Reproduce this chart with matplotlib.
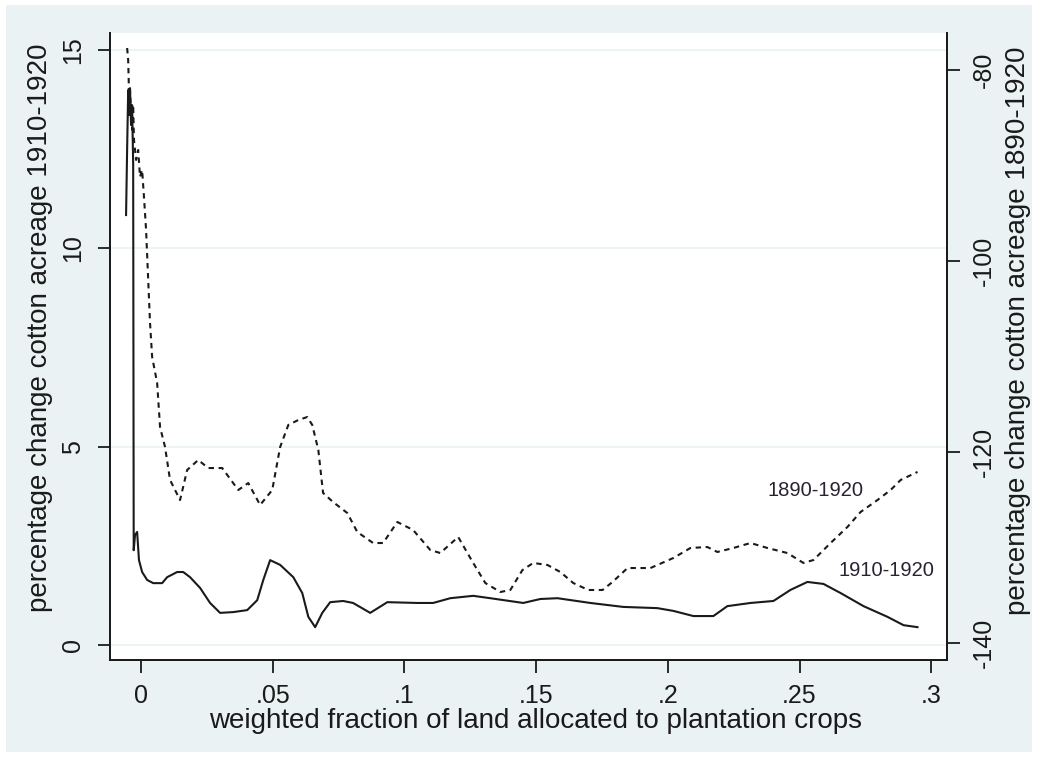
import matplotlib.pyplot as plt
import matplotlib.patches as mpatches

plt.rcParams['font.family'] = ['Liberation Sans', 'DejaVu Sans']
plt.rcParams['axes.unicode_minus'] = False

# share of land in plantation crops (x) and smoothed change in cotton acreage
x_1910 = [-0.0057, -0.0053, -0.0049, -0.0046, -0.0042, -0.0038, -0.0034, -0.0030, -0.0028,
          -0.0023, -0.0015, -0.0008, 0.0004, 0.0023, 0.0046, 0.0080, 0.0099, 0.0137, 0.0160,
          0.0186, 0.0224, 0.0262, 0.0300, 0.0350, 0.0403, 0.0441, 0.0464, 0.0490, 0.0528,
          0.0578, 0.0612, 0.0635, 0.0661, 0.0688, 0.0718, 0.0767, 0.0805, 0.0870, 0.0935,
          0.1049, 0.1109, 0.1174, 0.1261, 0.1326, 0.1451, 0.1516, 0.1581, 0.1706, 0.1831,
          0.1960, 0.2021, 0.2097, 0.2173, 0.2226, 0.2314, 0.2401, 0.2466, 0.2530, 0.2591,
          0.2656, 0.2743, 0.2834, 0.2895, 0.2948]
y_1910 = [10.84, 12.48, 13.99, 13.36, 14.04, 13.11, 13.61, 12.10, 2.39,
          2.77, 2.85, 2.14, 1.84, 1.64, 1.56, 1.56, 1.71, 1.84, 1.84,
          1.71, 1.44, 1.06, 0.81, 0.83, 0.88, 1.13, 1.64, 2.14, 2.02,
          1.71, 1.31, 0.71, 0.45, 0.81, 1.08, 1.11, 1.06, 0.81, 1.08,
          1.06, 1.06, 1.18, 1.24, 1.18, 1.06, 1.16, 1.18, 1.06, 0.96,
          0.93, 0.86, 0.73, 0.73, 0.98, 1.06, 1.11, 1.39, 1.59, 1.54,
          1.31, 0.98, 0.71, 0.50, 0.45]

x_1890 = [-0.0053, -0.0049, -0.0047, -0.0046, -0.0042, -0.0038, -0.0034, -0.0030, -0.0027,
          -0.0019, -0.0011, -0.0004, 0.0004, 0.0011, 0.0019, 0.0034, 0.0042, 0.0061, 0.0072,
          0.0091, 0.0110, 0.0148, 0.0175, 0.0217, 0.0255, 0.0308, 0.0369, 0.0407, 0.0452,
          0.0498, 0.0528, 0.0559, 0.0597, 0.0631, 0.0650, 0.0673, 0.0691, 0.0729, 0.0783,
          0.0821, 0.0881, 0.0919, 0.0973, 0.1033, 0.1098, 0.1136, 0.1204, 0.1261, 0.1307,
          0.1364, 0.1402, 0.1448, 0.1489, 0.1543, 0.1592, 0.1641, 0.1698, 0.1752, 0.1790,
          0.1847, 0.1934, 0.2021, 0.2086, 0.2150, 0.2188, 0.2249, 0.2314, 0.2378, 0.2454,
          0.2515, 0.2553, 0.2618, 0.2682, 0.2732, 0.2796, 0.2846, 0.2884, 0.2948]
y_1890 = [-77.70, -78.95, -81.05, -83.14, -82.09, -84.71, -86.28, -83.66, -87.33,
          -89.42, -88.38, -91.20, -90.47, -93.30, -96.75, -106.49, -110.05, -112.77, -117.38,
          -119.48, -122.93, -125.03, -121.88, -120.84, -121.68, -121.68, -123.98, -123.25, -125.55,
          -123.98, -119.48, -117.17, -116.65, -116.34, -117.17, -119.79, -124.29, -125.24, -126.39,
          -128.38, -129.53, -129.53, -127.33, -128.17, -130.26, -130.58, -128.90, -131.62, -133.72,
          -134.66, -134.45, -132.36, -131.62, -131.83, -132.57, -133.72, -134.45, -134.45, -133.61,
          -132.15, -132.15, -131.10, -130.05, -129.95, -130.47, -130.05, -129.53, -130.05, -130.58,
          -131.62, -131.31, -129.53, -127.85, -126.28, -125.03, -123.98, -122.93, -122.09]

x_ticks = [0, 0.05, 0.1, 0.15, 0.2, 0.25, 0.3]
x_ticklabels = ['0', '.05', '.1', '.15', '.2', '.25', '.3']
left_ticks = [0, 5, 10, 15]
right_ticks = [-140, -120, -100, -80]

bg = '#eaf2f3'
ink = '#1a1a1a'

fig = plt.figure(figsize=(10.4, 7.63), dpi=100, facecolor='white')
fig.patches.append(mpatches.Rectangle((6 / 1040, 11 / 763), 1026 / 1040, 747 / 763,
                                      transform=fig.transFigure, facecolor=bg,
                                      edgecolor='none', zorder=-10))

ax = fig.add_axes([110 / 1040, 103 / 763, 837 / 1040, 627 / 763])
ax.set_facecolor('white')
ax2 = ax.twinx()

ax.plot(x_1910, y_1910, color=ink, lw=1.5, solid_joinstyle='round')
ax2.plot(x_1890, y_1890, color=ink, lw=1.5, linestyle=(0, (2.6, 2.2)))

ax.set_xlim(-0.0118, 0.306)
ax.set_ylim(-0.378, 15.43)
ax2.set_ylim(-141.78, -76.13)

for g in left_ticks:
    ax.axhline(g, color=bg, lw=1.2, zorder=0)

ax.set_xticks(x_ticks)
ax.set_xticklabels(x_ticklabels)
ax.set_yticks(left_ticks)
ax2.set_yticks(right_ticks)

for a in (ax, ax2):
    a.spines['top'].set_visible(False)
    for s in ('left', 'right', 'bottom'):
        a.spines[s].set_linewidth(1.3)
        a.spines[s].set_color(ink)
    a.tick_params(direction='out', length=9, width=1.3, color=ink,
                  labelsize=18, labelcolor=ink, pad=6)

ax.tick_params(axis='x', labelsize=18, pad=8)
ax.tick_params(axis='y', labelrotation=90, pad=9)
ax2.tick_params(axis='y', labelrotation=90, pad=9)
for lbl in ax.get_yticklabels() + ax2.get_yticklabels():
    lbl.set_va('center')

ax.set_xlabel('weighted fraction of land allocated to plantation crops',
              fontsize=20, color=ink)
ax.xaxis.set_label_coords(0.508, -0.077)
ax.set_ylabel('percentage change cotton acreage 1910-1920', fontsize=20, color=ink)
ax2.set_ylabel('percentage change cotton acreage 1890-1920', fontsize=20, color=ink)
ax.yaxis.set_label_coords(-0.0836, 0.53)
ax2.yaxis.set_label_coords(1.0848, 0.525)
for lab in (ax.yaxis.label, ax2.yaxis.label):
    lab.set_va('center')
    lab.set_ha('center')

ax.text(0.256, 3.9, '1890-1920', fontsize=14.5, color='#2a2230', ha='center', va='center')
ax.text(0.283, 1.89, '1910-1920', fontsize=14.5, color='#2a2230', ha='center', va='center')

fig.savefig('out.png', dpi=100, facecolor='white')
